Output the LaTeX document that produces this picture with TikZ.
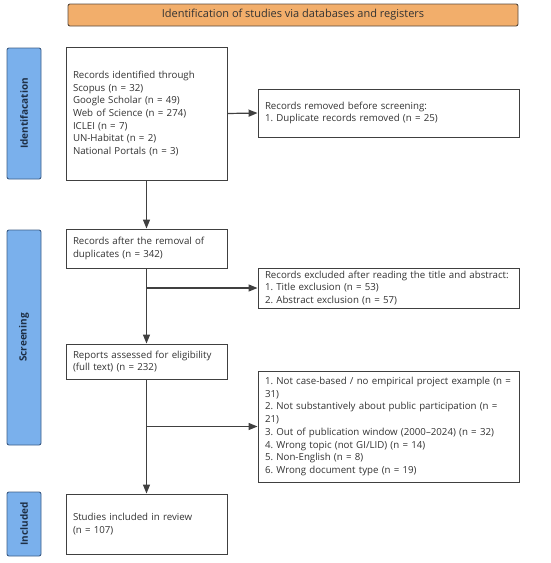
\documentclass[tikz,border=0pt]{standalone}
\usepackage{fontspec}
\setmainfont{Open Sans}
\usetikzlibrary{arrows.meta}
\frenchspacing
\definecolor{orfill}{HTML}{F2AE6B}
\definecolor{orline}{HTML}{5A4A3C}
\definecolor{blfill}{HTML}{7AB0EC}
\definecolor{blline}{HTML}{3D5E86}
\definecolor{bltext}{HTML}{1E2F45}
\definecolor{lineg}{HTML}{404040}
\tikzset{
  boxn/.style={draw=lineg, line width=0.9pt, fill=white, inner xsep=7pt, inner ysep=0pt,
    align=left, anchor=center, font=\fontsize{9.7}{12.7}\selectfont, text=black!80},
  sidebar/.style={draw=blline, fill=blfill, line width=0.9pt, rounded corners=2pt,
    minimum width=34pt, inner sep=0pt, anchor=center},
  sidelabel/.style={rotate=90, font=\bfseries\fontsize{10}{12}\selectfont, text=bltext},
  conn/.style={draw=lineg, line width=1.2pt},
  arr/.style={conn, -{Triangle[length=9pt,width=7pt]}}
}
\begin{document}
\begin{tikzpicture}[x=1pt,y=-1pt]
\useasboundingbox (0,0) rectangle (550,563);
% top bar
\node[draw=orline, fill=orfill, line width=0.9pt, rounded corners=2pt, minimum width=450pt, minimum height=22pt,
  inner sep=0pt, font=\fontsize{11}{13}\selectfont, text=black!80] (top) at (293,15) {Identification of studies via databases and registers};
% side bars
\node[sidebar, minimum height=131pt] (s1) at (24,113.5) {};
\node[sidelabel] (s1l) at (s1.center) {Identifacation};
\node[sidebar, minimum height=215pt] (s2) at (24,337.5) {};
\node[sidelabel] (s2l) at (s2.center) {Screening};
\node[sidebar, minimum height=64pt] (s3) at (24,524) {};
\node[sidelabel] (s3l) at (s3.center) {Included};
% boxes
\node[boxn, text width=147pt, minimum height=133pt] (b1) at (146.5,113.5) {Records identified through\\Scopus (n = 32)\\Google Scholar (n = 49)\\Web of Science (n = 274)\\ICLEI (n = 7)\\UN-Habitat (n = 2)\\National Portals (n = 3)};
\node[boxn, text width=247pt, minimum height=48pt] (r1) at (388.5,113) {Records removed before screening:\\1. Duplicate records removed (n = 25)};
\node[boxn, text width=147pt, minimum height=39pt] (b2) at (146.5,248.5) {Records after the removal of\\duplicates (n = 342)};
\node[boxn, text width=247pt, minimum height=40pt] (r2) at (388.5,288) {Records excluded after reading the title and abstract:\\1. Title exclusion (n = 53)\\2. Abstract exclusion (n = 57)};
\node[boxn, text width=147pt, minimum height=35pt] (b3) at (146.5,361.5) {Reports assessed for eligibility\\(full text) (n = 232)};
\node[boxn, text width=247pt, minimum height=111pt] (r3) at (388.5,426.5) {1. Not case-based / no empirical project example (n =\\31)\\2. Not substantively about public participation (n =\\21)\\3. Out of publication window (2000–2024) (n = 32)\\4. Wrong topic (not GI/LID) (n = 14)\\5. Non-English (n = 8)\\6. Wrong document type (n = 19)};
\node[boxn, text width=147pt, minimum height=60pt] (b4) at (146.5,524) {Studies included in review\\(n = 107)};
% connectors
\coordinate (j1) at (b2.south |- r2.west);
\coordinate (j2) at (b3.south |- r3.west);
\draw[arr] (b1.south) -- (b2.north);
\draw[arr] (b2.south) -- (b3.north);
\draw[arr] (j1) -- (r2.west);
\draw[arr] (b3.south) -- (b4.north);
\draw[arr] (j2) -- (r3.west);
\draw[arr] (b1.east) -- (r1.west);
\end{tikzpicture}
\end{document}
